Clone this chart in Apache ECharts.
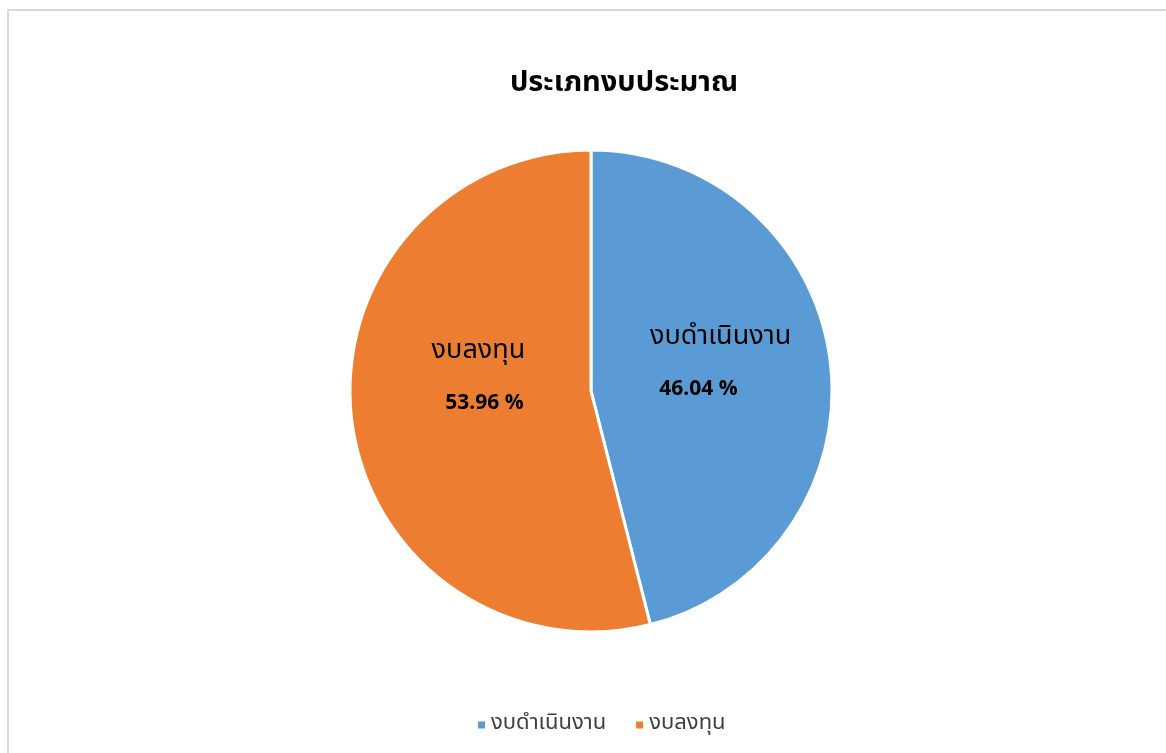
<!DOCTYPE html>
<html>
<head>
<meta charset="utf-8">
<script src="https://cdn.jsdelivr.net/npm/echarts@6/dist/echarts.min.js"></script>
<style>
  html, body { margin: 0; padding: 0; background: #fff; }
  #frame { position: absolute; left: 7px; top: 9px; width: 1170px; height: 760px; border: 2px solid #d9d9d9; box-sizing: border-box; }
  #chart { position: absolute; left: 0; top: 0; width: 1166px; height: 753px; }
</style>
</head>
<body>
<div id="frame"></div>
<div id="chart"></div>
<script>
// ข้อมูลกราฟ
const titleText = 'ประเภทงบประมาณ'
const categories = ['งบดำเนินงาน', 'งบลงทุน']
const percentValues = [46.04, 53.96]
const sliceColors = ['#5B9BD5', '#ED7D31']

const thaiFont = '"Noto Sans Thai", "Noto Sans Thai UI", "Leelawadee UI", Tahoma, "Noto Sans", "DejaVu Sans", sans-serif'

// ตำแหน่งป้ายในแต่ละชิ้น (ปรับให้ใกล้ภาพต้นฉบับ)
const labelOffsets = [[7, -13], [10, -30]]
const valuePadding = [[0, 44, 0, 0], [0, 0, 0, 12]]

const chart = echarts.init(document.getElementById('chart'))

const pieData = categories.map((name, i) => ({
    name: name,
    value: percentValues[i],
    itemStyle: { color: sliceColors[i] },
    label: {
        offset: labelOffsets[i],
        rich: {
            n: { fontFamily: thaiFont, fontSize: 27, color: '#000', lineHeight: 56 },
            v: { fontFamily: thaiFont, fontSize: 21, fontWeight: 'bold', color: '#000', lineHeight: 48, padding: valuePadding[i] }
        }
    }
}))

const option = {
    animation: false,
    title: {
        text: titleText,
        left: 619,
        textAlign: 'center',
        top: 66,
        textStyle: { fontFamily: thaiFont, fontSize: 29, fontWeight: 'bold', color: '#000' }
    },
    legend: {
        bottom: 12,
        left: 471,
        orient: 'horizontal',
        icon: 'rect',
        itemWidth: 9,
        itemHeight: 9,
        itemGap: 28,
        textStyle: { fontFamily: thaiFont, fontSize: 22, color: '#404040' },
        data: categories
    },
    series: [
        {
            type: 'pie',
            center: [591, 391],
            radius: 241,
            startAngle: 90,
            clockwise: true,
            itemStyle: { borderColor: '#fff', borderWidth: 3 },
            label: {
                show: true,
                position: 'inside',
                formatter: p => '{n|' + p.name + '}\n{v|' + p.value.toFixed(2) + ' %}'
            },
            labelLine: { show: false },
            data: pieData
        }
    ]
}

chart.setOption(option)
</script>
</body>
</html>
